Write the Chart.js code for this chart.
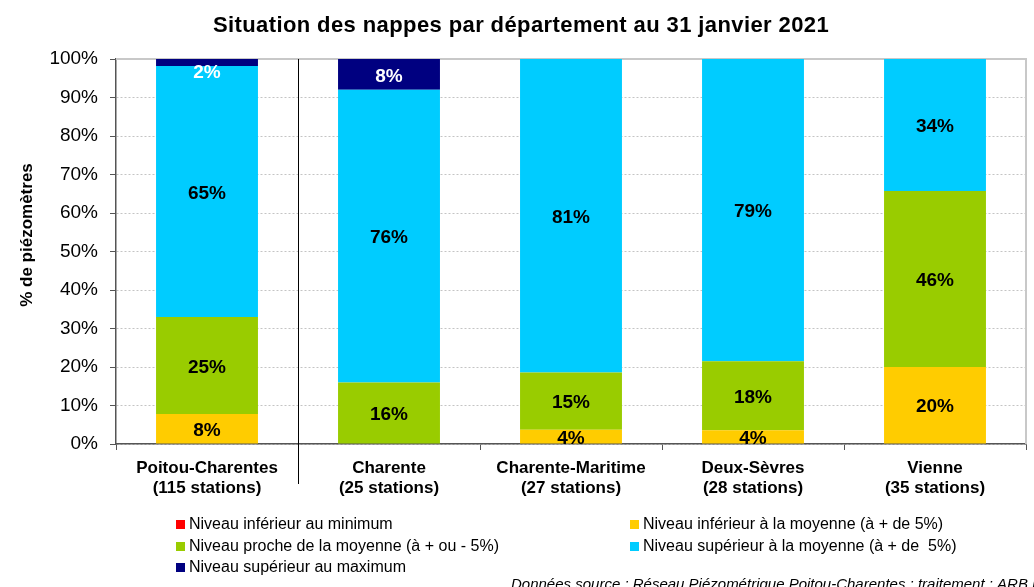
<!DOCTYPE html>
<html>
<head>
<meta charset="utf-8">
<script src="https://cdn.jsdelivr.net/npm/chart.js@4/dist/chart.umd.min.js"></script>
<style>
html,body{margin:0;padding:0;background:#fff;}
#wrap{width:1034px;height:587px;position:relative;}
</style>
</head>
<body>
<div id="wrap"><canvas id="c" width="1034" height="587"></canvas></div>
<script>
const categories = [
  ['Poitou-Charentes', '(115 stations)'],
  ['Charente', '(25 stations)'],
  ['Charente-Maritime', '(27 stations)'],
  ['Deux-Sèvres', '(28 stations)'],
  ['Vienne', '(35 stations)']
];
const seriesNames = [
  'Niveau inférieur au minimum',
  'Niveau inférieur à la moyenne (à + de 5%)',
  'Niveau proche de la moyenne (à + ou - 5%)',
  'Niveau supérieur à la moyenne (à + de  5%)',
  'Niveau supérieur au maximum'
];
const belowMinimum = [0, 0, 0, 0, 0];
const belowAverage = [7.8, 0, 3.7, 3.6, 20];
const nearAverage = [25.2, 16, 14.9, 17.9, 45.7];
const aboveAverage = [65.2, 76, 81.4, 78.5, 34.3];
const aboveMaximum = [1.8, 8, 0, 0, 0];
const yTicks = [0, 10, 20, 30, 40, 50, 60, 70, 80, 90, 100];
const seriesColors = ['#FF0000', '#FFCC00', '#99CC00', '#00CCFF', '#000080'];
const labelColors = ['#000', '#000', '#000', '#000', '#fff'];

const FONT = '"Liberation Sans", Arial, sans-serif';
const seriesData = [belowMinimum, belowAverage, nearAverage, aboveAverage, aboveMaximum];

const decorPlugin = {
  id: 'decor',
  beforeDatasetsDraw(chart) {
    const ctx = chart.ctx, a = chart.chartArea;
    ctx.save();
    ctx.strokeStyle = '#c8c8c8';
    ctx.lineWidth = 2;
    ctx.beginPath();
    ctx.moveTo(a.left, a.top);
    ctx.lineTo(a.right, a.top);
    ctx.lineTo(a.right, a.bottom);
    ctx.stroke();
    ctx.restore();
  },
  afterDatasetsDraw(chart) {
    const ctx = chart.ctx, a = chart.chartArea;
    const xs = chart.scales.x;
    ctx.save();
    // separator line
    const sx = Math.round((xs.getPixelForValue(0) + xs.getPixelForValue(1)) / 2) + 0.5;
    ctx.strokeStyle = '#000';
    ctx.lineWidth = 1;
    ctx.beginPath();
    ctx.moveTo(sx, a.top);
    ctx.lineTo(sx, 484);
    ctx.stroke();
    // data labels
    ctx.font = 'bold 19px ' + FONT;
    ctx.textAlign = 'center';
    ctx.textBaseline = 'middle';
    chart.data.datasets.forEach((ds, di) => {
      const meta = chart.getDatasetMeta(di);
      meta.data.forEach((bar, i) => {
        const v = ds.data[i];
        if (!v) return;
        const top = Math.min(bar.y, bar.base), bot = Math.max(bar.y, bar.base);
        let y = (top + bot) / 2 + 2;
        if (bot - top < 20 && di === 4) y = top + 14;
        ctx.fillStyle = labelColors[di];
        ctx.fillText(Math.round(v) + '%', bar.x, y);
      });
    });
    // title
    ctx.fillStyle = '#000';
    ctx.font = 'bold 22px ' + FONT;
    ctx.letterSpacing = '0.4px';
    ctx.fillText('Situation des nappes par département au 31 janvier 2021', 521, 26);
    ctx.letterSpacing = '0px';
    // y axis title
    ctx.save();
    ctx.translate(27, 235);
    ctx.rotate(-Math.PI / 2);
    ctx.font = 'bold 17px ' + FONT;
    ctx.fillText('% de piézomètres', 0, 0);
    ctx.restore();
    // legend
    ctx.font = '16px ' + FONT;
    ctx.textAlign = 'left';
    const pos = [[176, 189, 524], [630, 643, 524], [176, 189, 546], [630, 643, 546], [176, 189, 567]];
    seriesNames.forEach((n, k) => {
      const p = pos[k];
      ctx.fillStyle = seriesColors[k];
      ctx.fillRect(p[0], p[2] - 4, 9, 9);
      ctx.fillStyle = '#000';
      ctx.fillText(n, p[1], p[2] + 1);
    });
    // source
    ctx.font = 'italic 15px ' + FONT;
    ctx.fillText('Données source : Réseau Piézométrique Poitou-Charentes ; traitement : ARB NA', 511, 585);
    ctx.restore();
  }
};

new Chart(document.getElementById('c'), {
  type: 'bar',
  data: {
    labels: categories,
    datasets: seriesData.map((d, k) => ({
      label: seriesNames[k],
      data: d,
      backgroundColor: seriesColors[k],
      borderWidth: 0,
      barPercentage: 0.56,
      categoryPercentage: 1
    }))
  },
  options: {
    responsive: false,
    animation: false,
    layout: { padding: { top: 59, right: 8, bottom: 80, left: 0 } },
    plugins: { legend: { display: false }, title: { display: false }, tooltip: { enabled: false } },
    scales: {
      x: {
        stacked: true,
        afterFit(s) { s.height = 63; },
        border: { color: '#555', width: 1.5 },
        grid: { drawOnChartArea: false, drawTicks: true, tickLength: 6, tickColor: '#555', offset: true },
        ticks: { color: '#000', font: { family: FONT, size: 17, weight: 'bold' }, padding: 8, maxRotation: 0 }
      },
      y: {
        stacked: true,
        min: 0, max: 100,
        afterFit(s) { s.width = 116; },
        afterBuildTicks(s) { s.ticks = yTicks.map(v => ({ value: v })); },
        border: { color: '#555', width: 1.5, dash: [2, 2] },
        grid: { color: '#c4c4c4', tickColor: '#555', tickLength: 6, tickBorderDash: [] },
        ticks: { color: '#000', font: { family: FONT, size: 19 }, padding: 12, callback: v => v + '%' },
        title: { display: false }
      }
    }
  },
  plugins: [decorPlugin]
});
</script>
</body>
</html>
